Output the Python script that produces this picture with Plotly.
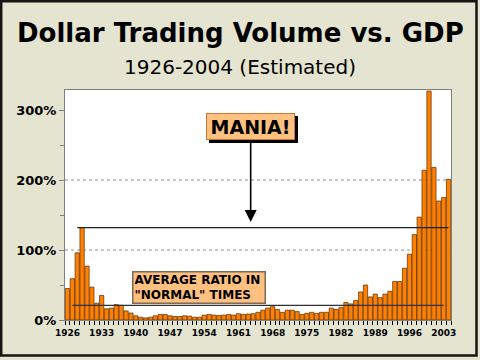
import plotly.graph_objects as go

# ---- data ----
years = list(range(1926, 2005))
ratio_pct = [
    45, 59, 96, 132, 77, 47, 24, 35, 16, 17,          # 1926-1935
    22, 21, 13, 10, 6, 4, 3, 4, 6, 8,                 # 1936-1945
    8, 6, 5, 5, 6, 5.5, 4, 4, 7, 8,                   # 1946-1955
    7, 6.5, 7, 8, 7, 9, 8, 8.5, 9, 11,                # 1956-1965
    14, 17, 19, 15, 11, 14, 14, 12, 8, 9.5,           # 1966-1975
    11, 9.5, 11, 11, 17, 15, 18, 25, 23, 28,          # 1976-1985
    40, 50, 33, 37, 32, 37, 41, 55, 55, 74,           # 1986-1995
    94, 122, 147, 214, 327, 218, 170, 175, 201,       # 1996-2004
]
x_label_years = [1926, 1933, 1940, 1947, 1954, 1961, 1968, 1975, 1982, 1989, 1996, 2003]
y_tick_vals = [0, 100, 200, 300]
y_tick_text = ["0%", "100%", "200%", "300%"]
grid_levels = [100, 200]
avg_normal_pct = 21            # "average ratio in normal times"
mania_level_pct = ratio_pct[years.index(1929)]

title_text = "Dollar Trading Volume vs. GDP"
subtitle_text = "1926-2004 (Estimated)"
mania_text = "MANIA!"
avg_text = "AVERAGE RATIO IN<br>\"NORMAL\" TIMES"

W, H = 480, 360
ML, MR, MT, MB = 65, 29, 90, 40
PW, PH = W - ML - MR, H - MT - MB

def px_x(p):
    return (p - ML) / PW

def px_y(p):
    return (H - MB - p) / PH

FONT = "DejaVu Sans"
BG = "#e4e4d0"

fig = go.Figure()
fig.add_trace(go.Bar(
    x=years, y=ratio_pct,
    marker=dict(color="#ff8000", line=dict(color="#5a2d00", width=0.7)),
    hoverinfo="x+y",
))

shapes = []
for g in grid_levels:
    shapes.append(dict(type="line", xref="paper", yref="y", x0=0, x1=1, y0=g, y1=g,
                       line=dict(color="#909090", width=1, dash="dot"), layer="below"))
# mania line and average line
shapes.append(dict(type="line", xref="x", yref="y", x0=1928, x1=2004,
                   y0=mania_level_pct, y1=mania_level_pct,
                   line=dict(color="#202020", width=1.3), layer="above"))
shapes.append(dict(type="line", xref="x", yref="y", x0=1927, x1=2003,
                   y0=avg_normal_pct, y1=avg_normal_pct,
                   line=dict(color="#303030", width=1.3), layer="above"))
# outer frame
shapes.append(dict(type="rect", xref="paper", yref="paper",
                   x0=px_x(1.2), x1=px_x(476.5), y0=px_y(355.5), y1=px_y(1.2),
                   line=dict(color="#151515", width=2.5), fillcolor="rgba(0,0,0,0)", layer="above"))

annotations = [
    dict(text="<b>" + title_text + "</b>", xref="paper", yref="paper",
         x=px_x(240), y=px_y(33), showarrow=False, xanchor="center", yanchor="middle",
         font=dict(family=FONT, size=26, color="black")),
    dict(text=subtitle_text, xref="paper", yref="paper",
         x=px_x(240), y=px_y(67), showarrow=False, xanchor="center", yanchor="middle",
         font=dict(family=FONT, size=20, color="black")),
    # arrow
    dict(text="", xref="x", yref="y", x=1963.5, y=140, ax=0, ay=-82,
         showarrow=True, arrowhead=2, arrowsize=1.5, arrowwidth=1.6, arrowcolor="black",
         standoff=0),
    # MANIA shadow + box
    dict(text=" ", xref="x", yref="y", x=1963.5, y=276,
         xshift=3, yshift=-3, showarrow=False, width=85, height=23,
         bgcolor="black", bordercolor="black", borderwidth=1, borderpad=1,
         font=dict(family=FONT, size=19, color="black")),
    dict(text="<b>" + mania_text + "</b>", xref="x", yref="y", x=1963.5, y=276,
         showarrow=False, width=85, height=23,
         bgcolor="#ffc080", bordercolor="#c87838", borderwidth=1, borderpad=1,
         font=dict(family=FONT, size=19, color="black")),
    # average ratio box
    dict(text="<b>" + avg_text + "</b>", xref="x", yref="y", x=1953, y=46,
         showarrow=False, width=129, height=28, align="left",
         bgcolor="#ffc080", bordercolor="#7a6a58", borderwidth=1.5, borderpad=1,
         font=dict(family=FONT, size=12, color="black")),
]

fig.update_layout(
    width=W, height=H,
    margin=dict(l=ML, r=MR, t=MT, b=MB, pad=0),
    paper_bgcolor=BG, plot_bgcolor="white",
    showlegend=False, bargap=0.12,
    shapes=shapes, annotations=annotations,
    xaxis=dict(
        range=[1925.5, 2004.5], tickvals=x_label_years,
        ticks="outside", ticklen=4, tickcolor="rgba(0,0,0,0)",
        minor=dict(tick0=1925.5, dtick=1, ticks="outside", ticklen=4, tickcolor="black"),
        showgrid=False, zeroline=False,
        showline=True, mirror=True, linecolor="#808080", linewidth=1,
        tickfont=dict(family=FONT, size=9, color="black", weight="bold"),
    ),
    yaxis=dict(
        range=[0, (H - MB - MT) / 0.7], tickvals=y_tick_vals, ticktext=y_tick_text,
        ticks="outside", ticklen=5, tickcolor="#808080",
        minor=dict(dtick=50, ticks="outside", ticklen=4, tickcolor="#808080"),
        showgrid=False, zeroline=False,
        showline=True, mirror=True, linecolor="#808080", linewidth=1,
        tickfont=dict(family=FONT, size=13, color="black", weight="bold"),
    ),
)

fig.write_html("out.html", config={"displayModeBar": False},
               post_script="document.body.style.margin='0';document.body.style.overflow='hidden';")
